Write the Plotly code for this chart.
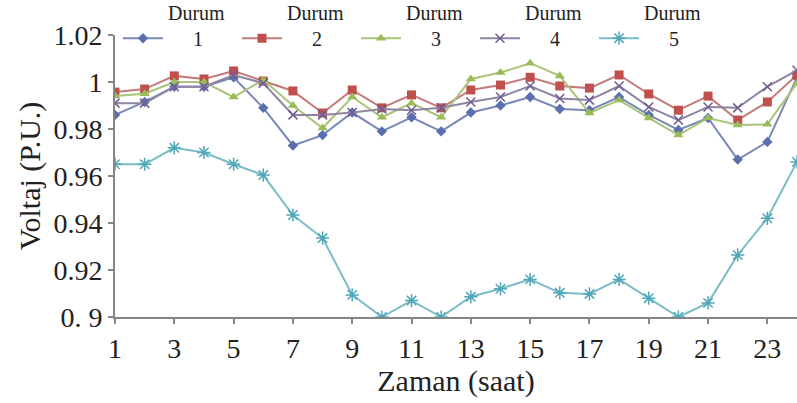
import plotly.graph_objects as go

# Hours of the day
saat = list(range(1, 25))

# Bus voltage (p.u.) for each scenario
durum1 = [0.986, 0.9915, 0.998, 0.998, 1.002, 0.989, 0.973, 0.9774, 0.987, 0.979,
          0.985, 0.979, 0.987, 0.990, 0.9936, 0.9885, 0.988, 0.9936, 0.986, 0.9796,
          0.9847, 0.967, 0.9745, 1.002]
durum2 = [0.9957, 0.997, 1.0026, 1.0013, 1.0047, 1.0004, 0.9962, 0.9868, 0.9966, 0.989,
          0.9945, 0.989, 0.9966, 0.9987, 1.002, 0.9983, 0.9974, 1.003, 0.9949, 0.988,
          0.994, 0.9838, 0.9915, 1.003]
durum3 = [0.994, 0.995, 1.000, 1.000, 0.9936, 1.0009, 0.990, 0.9804, 0.9936, 0.985,
          0.991, 0.985, 1.0013, 1.004, 1.008, 1.0026, 0.9868, 0.9923, 0.9847, 0.9774,
          0.9847, 0.9817, 0.982, 0.9995]
durum4 = [0.991, 0.991, 0.998, 0.998, 1.003, 0.9995, 0.986, 0.986, 0.987, 0.9885,
          0.988, 0.989, 0.9915, 0.9936, 0.9983, 0.993, 0.9923, 0.9983, 0.9894, 0.9838,
          0.9894, 0.989, 0.998, 1.005]
durum5 = [0.965, 0.965, 0.972, 0.970, 0.965, 0.9604, 0.9434, 0.9336, 0.9094, 0.900,
          0.907, 0.900, 0.9086, 0.912, 0.916, 0.9103, 0.9098, 0.916, 0.908, 0.900,
          0.906, 0.9264, 0.942, 0.966]

seriler = [
    ("Durum", "1", durum1, "#5a6fae", "#7a88b8", dict(symbol="diamond", size=8)),
    ("Durum", "2", durum2, "#c0504d", "#c47a78", dict(symbol="square", size=9)),
    ("Durum", "3", durum3, "#9bbb59", "#a9c47a", dict(symbol="triangle-up", size=9)),
    ("Durum", "4", durum4, "#7d6a9c", "#8f84a3", dict(symbol="x-thin", size=9, line=dict(width=1.5, color="#6f5c90"))),
    ("Durum", "5", durum5, "#4bacc6", "#7bbcc8", dict(symbol="asterisk", size=11, line=dict(width=1.5, color="#4fa8b8"))),
]

x_ticks = list(range(1, 25, 2))
y_ticks = [0.9, 0.92, 0.94, 0.96, 0.98, 1.0, 1.02]
y_tick_text = ["0. 9", "0.92", "0.94", "0.96", "0.98", "1", "1.02"]

fig = go.Figure()
for ad, no, deger, mcol, lcol, mk in seriler:
    mk = dict(mk)
    mk["color"] = mcol
    fig.add_trace(go.Scatter(
        x=saat, y=deger, mode="lines+markers",
        name=ad + "<br>" + "\u00a0" * 5 + no,
        line=dict(color=lcol, width=2),
        marker=mk,
    ))

serif = "Liberation Serif"
fig.update_layout(
    width=797, height=403,
    margin=dict(l=115, r=0, t=35, b=86, autoexpand=False),
    paper_bgcolor="white", plot_bgcolor="white",
    font=dict(family=serif, color="#222"),
    showlegend=True,
    legend=dict(
        orientation="h", x=0.0044, xanchor="left", y=1.15, yanchor="top",
        yref="paper", font=dict(family=serif, size=20, color="#222"),
        bgcolor="rgba(0,0,0,0)", valign="bottom", itemwidth=40,
        entrywidth=64, entrywidthmode="pixels", tracegroupgap=0,
    ),
    xaxis=dict(
        range=[1, 24], tickvals=x_ticks, ticktext=[str(v) for v in x_ticks],
        showline=True, linecolor="#858585", linewidth=2, mirror=False,
        ticks="outside", ticklen=5, tickcolor="#858585", tickwidth=2,
        showgrid=False, zeroline=False,
        tickfont=dict(family=serif, size=28, color="#222"),
        title=dict(text="Zaman (saat)", font=dict(family=serif, size=30, color="#222"), standoff=6),
    ),
    yaxis=dict(
        range=[0.9, 1.02], tickvals=y_ticks, ticktext=y_tick_text,
        showline=True, linecolor="#858585", linewidth=2,
        ticks="outside", ticklen=5, tickcolor="#858585", tickwidth=2,
        showgrid=False, zeroline=False,
        tickfont=dict(family=serif, size=28, color="#222"),
        title=dict(text="Voltaj (P.U.)", font=dict(family=serif, size=30, color="#222"), standoff=4),
    ),
)

fig.write_html("out.html")
